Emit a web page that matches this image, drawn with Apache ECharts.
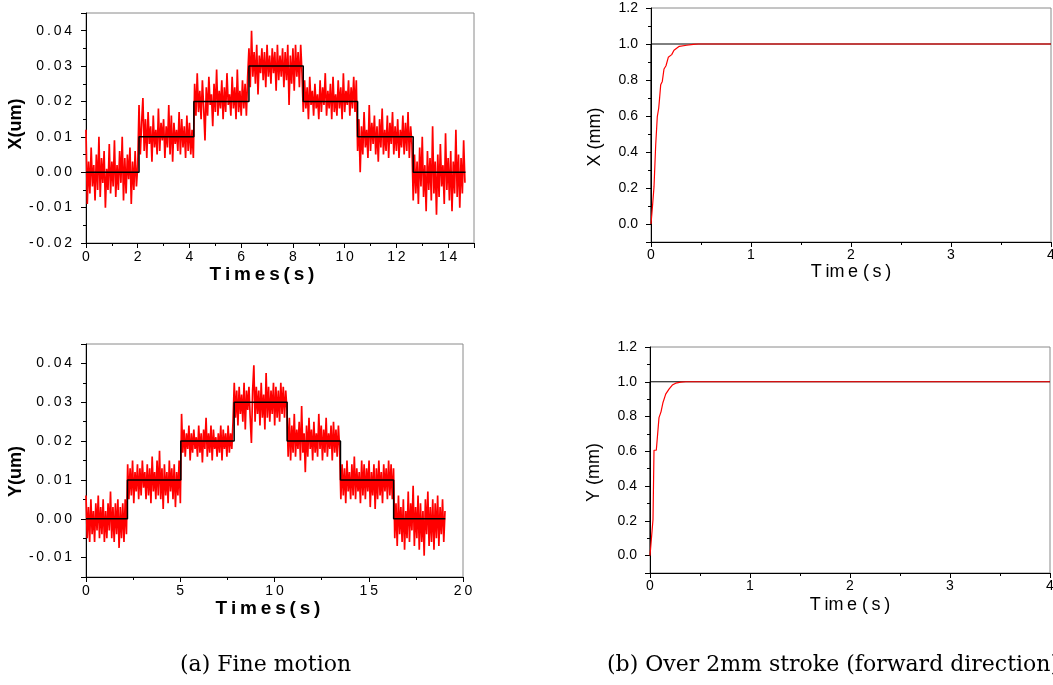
<!DOCTYPE html>
<html>
<head>
<meta charset="utf-8">
<script src="https://cdn.jsdelivr.net/npm/echarts@6/dist/echarts.min.js"></script>
<style>
html,body{margin:0;padding:0;background:#fff;}
#chart{width:1053px;height:685px;}
</style>
</head>
<body>
<div id="chart"></div>
<script>
// ---------- (a) Fine motion, X axis: measured position in nm, one sample every 0.05 s ----------
const xFineDt = 0.05;
const xFineNm = [
  12,-9,3,-6,7,-4,2,-8,5,-5,10,-7,4,-3,6,-10,1,-5,8,-6,3,-4,9,-7,2,-5,6,-3,10,-8,4,-6,5,-2,7,-9,3,-5,6,-4,2,
  19,5,14,21,6,15,4,17,8,13,3,16,7,12,5,18,6,14,9,15,4,13,7,19,5,16,3,14,8,12,6,17,5,15,7,13,4,16,6,14,5,12,4,
  25,16,28,17,23,15,26,18,9,24,16,27,19,22,13,25,17,29,16,23,18,26,15,24,17,28,19,22,16,27,18,24,15,29,17,23,16,26,18,25,16,27,
  35,24,40,27,34,25,36,22,33,28,35,26,34,24,36,27,33,25,35,28,34,23,36,26,33,27,35,24,34,26,36,19,33,25,35,23,36,27,34,24,36,28,
  17,26,18,24,15,27,19,23,16,25,18,22,15,26,17,24,19,28,16,23,18,25,15,27,17,22,16,26,18,24,15,28,17,23,19,26,16,24,18,27,17,26,
  6,15,0,13,5,17,7,12,4,19,6,14,8,16,5,13,3,15,7,18,5,12,6,16,4,14,8,17,5,13,6,15,4,12,7,16,5,14,6,17,4,13,8,
  -8,5,-6,3,-9,7,-4,10,-7,2,-11,6,-5,4,-8,13,-6,3,-12,5,-7,8,-4,2,-9,11,-5,4,-8,6,-11,3,-6,12,-7,5,-10,4,-6,9,-3
];
// reference (command) steps, X
const xRefStepT  = [0, 2.05, 4.17, 6.3, 8.4, 10.5, 12.65, 14.67];
const xRefStepNm = [0, 10, 20, 30, 20, 10, 0, 0];

// ---------- (a) Fine motion, Y axis: measured position in nm, one sample every 0.065 s ----------
const yFineDt = 0.065;
const yFineNm = [
  6,-5,3,-6,5,-4,2,-6,4,-3,6,-5,3,-4,5,-6,2,-5,4,-3,7,-5,3,-6,4,-4,5,-7.5,3,-5,4,-6,5,-4,
  14,5,13,6,15,4,12,7,14,5,13,6,15,8,12,5,14,6,13,4,16,7,12,5,15,6,17.5,5,13,2.5,14,6,12,4,15,7,13,5,14,3,12,6,15,4,
  27,17,23,16,22,18,24,15,22,17,23,18,21,16,24,17,22,14.5,23,18,26,16,22,17,24,15,23,18,21,16,22,17,24,15,23,18,22,16,24,17,22,18,25,
  35,26,33,24,34,27,32,25,35,23,33,28,34,26,19.5,33,39.5,25,34,27,33,24,35,26,32,23,37.5,26,34,25,33,27,35,24,34,26,33,25,35,27,34,26,33,28,
  16,26,15,24,17,27,16,23,18,25,15,29,17,22,12,24,16,26,18,23,15,25,17,22,16,27,18,24,15,23,17,26,16,22,18,24,15,25,17,23,16,24,18,
  5,14,6,13,4,15,7,12,5,14,6,16,5,13,7,12,4,15,6,14,5,13,7,15,3,12,6,14,2.5,13,5,15,6,12,4,14,7,13,5,15,6,14,5,13,
  -5,4,-7,6,-4,3,-6,5,-8,2,-5,7,-6,4,-3,8.5,-7,3,-5,6,-8,4,-6,2,-9.5,5,-4,7,-7,3,-6,5,-8,4,-5,6,-7,3,-4,5,-6,2
];
const yRefStepT  = [0, 2.2, 5.03, 7.86, 10.67, 13.5, 16.32, 19.06];
const yRefStepNm = [0, 10, 20, 30, 20, 10, 0, 0];

// ---------- (b) Over 2mm stroke: step responses (mm) ----------
const xStrokeT  = [0, 0.007, 0.017, 0.03, 0.047, 0.063, 0.077, 0.083, 0.097, 0.113, 0.13, 0.15, 0.173, 0.207, 0.23, 0.283, 0.357, 0.423, 0.473, 4];
const xStrokeMm = [0, 0, 0.113, 0.206, 0.439, 0.597, 0.643, 0.68, 0.773, 0.792, 0.861, 0.879, 0.926, 0.941, 0.965, 0.987, 0.993, 0.998, 1.0, 1.0];
const yStrokeT  = [0, 0.017, 0.03, 0.04, 0.063, 0.09, 0.11, 0.13, 0.157, 0.19, 0.223, 0.257, 0.307, 0.357, 4];
const yStrokeMm = [0, 0, 0.208, 0.606, 0.606, 0.794, 0.827, 0.881, 0.929, 0.958, 0.981, 0.992, 0.998, 1.0, 1.0];
const strokeRefT  = [0, 0, 4];
const strokeRefMm = [0, 1, 1];

// ---------- text ----------
const captionA = '(a) Fine motion';
const captionB = '(b) Over 2mm stroke (forward direction)';

const FONT = "'Liberation Sans', Arial, sans-serif";
const SERIF = "'DejaVu Serif', serif";
const TS = '\u2009';
const spaced = s => String(s).split('').join(TS);
const RED = '#ff0000';

function isMult(v, step) {
  const k = Math.round(v / step);
  return Math.abs(v / step - k) < 1e-6;
}

function axisBase(extra) {
  return Object.assign({
    type: 'value',
    axisLine: { show: true, onZero: false, lineStyle: { color: '#000', width: 1 } },
    axisTick: { show: true, inside: false, length: 5, lineStyle: { color: '#000', width: 1 } },
    minorTick: { show: true, splitNumber: 2, length: 3, lineStyle: { color: '#000', width: 1 } },
    splitLine: { show: false },
    minorSplitLine: { show: false },
  }, extra);
}

const leftLabel = { color: '#000', fontSize: 14, fontFamily: FONT };
const rightLabel = { color: '#000', fontSize: 14, fontFamily: FONT };

const gridBase = { show: true, borderColor: '#8a8a8a', borderWidth: 1, backgroundColor: 'transparent', containLabel: false, outerBoundsMode: 'none' };

const option = {
  animation: false,
  backgroundColor: '#fff',
  title: [
    { text: captionA, left: 180, top: 654, padding: 0,
      textStyle: { fontFamily: SERIF, fontSize: 22, fontWeight: 'normal', color: '#000' } },
    { text: captionB, left: 607, top: 654, padding: 0,
      textStyle: { fontFamily: SERIF, fontSize: 22, fontWeight: 'normal', color: '#000' } }
  ],
  grid: [
    Object.assign({ left: 86, top: 13, width: 388, height: 230 }, gridBase),
    Object.assign({ left: 86, top: 344, width: 377, height: 233 }, gridBase),
    Object.assign({ left: 651, top: 8, width: 400, height: 234 }, gridBase),
    Object.assign({ left: 650, top: 347, width: 400, height: 226 }, gridBase)
  ],
  xAxis: [
    axisBase({ gridIndex: 0, min: 0, max: 15, interval: 2,
      axisLabel: Object.assign({ margin: 7, formatter: v => isMult(v, 2) ? spaced(v) : '' }, leftLabel),
      name: spaced('Times(s)'), nameLocation: 'middle', nameGap: 21,
      nameTextStyle: { fontFamily: FONT, fontSize: 19, fontWeight: 'bold', color: '#000', padding: [0, 36, 0, 0] } }),
    axisBase({ gridIndex: 1, min: 0, max: 20, interval: 5,
      axisLabel: Object.assign({ margin: 7, formatter: v => spaced(v) }, leftLabel),
      name: spaced('Times(s)'), nameLocation: 'middle', nameGap: 18,
      nameTextStyle: { fontFamily: FONT, fontSize: 19, fontWeight: 'bold', color: '#000', padding: [0, 13, 0, 0] } }),
    axisBase({ gridIndex: 2, min: 0, max: 4, interval: 1,
      axisLabel: Object.assign({ margin: 6, formatter: v => String(v) }, rightLabel),
      name: 'T' + TS + 'im' + TS + 'e (' + TS + 's' + TS + ')', nameLocation: 'middle', nameGap: 20,
      nameTextStyle: { fontFamily: FONT, fontSize: 18, color: '#000' } }),
    axisBase({ gridIndex: 3, min: 0, max: 4, interval: 1,
      axisLabel: Object.assign({ margin: 6, formatter: v => String(v) }, rightLabel),
      name: 'T' + TS + 'im' + TS + 'e (' + TS + 's' + TS + ')', nameLocation: 'middle', nameGap: 23,
      nameTextStyle: { fontFamily: FONT, fontSize: 18, color: '#000' } })
  ],
  yAxis: [
    axisBase({ gridIndex: 0, min: -0.02, max: 0.045, splitNumber: 6,
      axisLabel: Object.assign({ margin: 14, formatter: v => isMult(v, 0.01) ? spaced(v.toFixed(2)) : '' }, leftLabel),
      name: 'X(um)', nameLocation: 'middle', nameGap: 57,
      nameTextStyle: { fontFamily: FONT, fontSize: 18, fontWeight: 'bold', color: '#000', padding: [0, 0, 0, 8] } }),
    axisBase({ gridIndex: 1, min: -0.015, max: 0.045, splitNumber: 6,
      axisLabel: Object.assign({ margin: 14, formatter: v => isMult(v, 0.01) ? spaced(v.toFixed(2)) : '' }, leftLabel),
      name: 'Y(um)', nameLocation: 'middle', nameGap: 58,
      nameTextStyle: { fontFamily: FONT, fontSize: 18, fontWeight: 'bold', color: '#000', padding: [0, 22, 0, 0] } }),
    axisBase({ gridIndex: 2, min: -0.1, max: 1.2, splitNumber: 6,
      axisLabel: Object.assign({ margin: 13, formatter: v => v < -0.05 ? '' : v.toFixed(1) }, rightLabel),
      name: 'X (mm)', nameLocation: 'middle', nameGap: 47,
      nameTextStyle: { fontFamily: FONT, fontSize: 18, color: '#000', padding: [0, 24, 0, 0] } }),
    axisBase({ gridIndex: 3, min: -0.1, max: 1.2, splitNumber: 6,
      axisLabel: Object.assign({ margin: 13, formatter: v => v < -0.05 ? '' : v.toFixed(1) }, rightLabel),
      name: 'Y (mm)', nameLocation: 'middle', nameGap: 47,
      nameTextStyle: { fontFamily: FONT, fontSize: 18, color: '#000', padding: [0, 25, 0, 0] } })
  ],
  series: [
    { type: 'line', xAxisIndex: 0, yAxisIndex: 0, symbol: 'none', silent: true,
      data: xFineNm.map((v, i) => [+(i * xFineDt).toFixed(3), v / 1000]),
      lineStyle: { color: RED, width: 1.7 } },
    { type: 'line', xAxisIndex: 0, yAxisIndex: 0, symbol: 'none', silent: true, step: 'end',
      data: xRefStepT.map((t, i) => [t, xRefStepNm[i] / 1000]),
      lineStyle: { color: '#000', width: 1.5 } },
    { type: 'line', xAxisIndex: 1, yAxisIndex: 1, symbol: 'none', silent: true,
      data: yFineNm.map((v, i) => [+(i * yFineDt).toFixed(3), v / 1000]),
      lineStyle: { color: RED, width: 1.7 } },
    { type: 'line', xAxisIndex: 1, yAxisIndex: 1, symbol: 'none', silent: true, step: 'end',
      data: yRefStepT.map((t, i) => [t, yRefStepNm[i] / 1000]),
      lineStyle: { color: '#000', width: 1.5 } },
    { type: 'line', xAxisIndex: 2, yAxisIndex: 2, symbol: 'none', silent: true,
      data: strokeRefT.map((t, i) => [t, strokeRefMm[i]]),
      lineStyle: { color: '#000', width: 1 } },
    { type: 'line', xAxisIndex: 2, yAxisIndex: 2, symbol: 'none', silent: true,
      data: xStrokeT.map((t, i) => [t, xStrokeMm[i]]),
      lineStyle: { color: RED, width: 1.2 } },
    { type: 'line', xAxisIndex: 3, yAxisIndex: 3, symbol: 'none', silent: true,
      data: strokeRefT.map((t, i) => [t, strokeRefMm[i]]),
      lineStyle: { color: '#000', width: 1 } },
    { type: 'line', xAxisIndex: 3, yAxisIndex: 3, symbol: 'none', silent: true,
      data: yStrokeT.map((t, i) => [t, yStrokeMm[i]]),
      lineStyle: { color: RED, width: 1.2 } }
  ]
};

const chart = echarts.init(document.getElementById('chart'), null, { renderer: 'canvas' });
chart.setOption(option);
</script>
</body>
</html>
